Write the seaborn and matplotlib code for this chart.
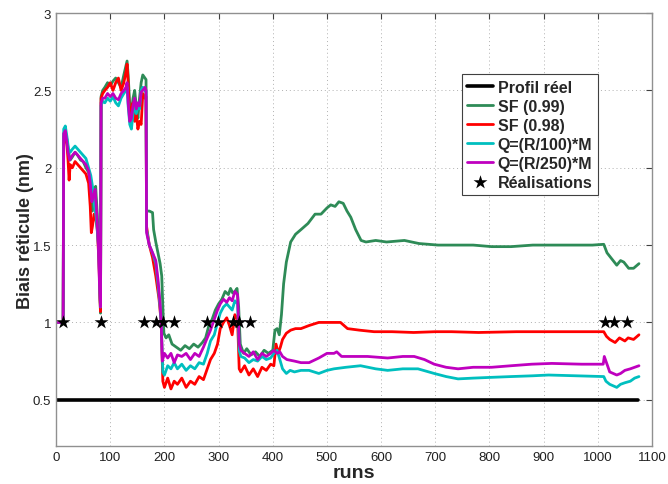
import numpy as np
import pandas as pd
import matplotlib
matplotlib.use("Agg")
import matplotlib.pyplot as plt
import seaborn as sns

# (runs, value)
reel_runs = [1, 1075]
reel_vals = [0.5, 0.5]

sf99_runs = [1, 13, 14, 17, 20, 23, 26, 30, 35, 40, 45, 50, 55, 60, 64, 67, 70, 73, 76, 79, 81, 82,
             83, 86, 90, 95, 100, 105, 110, 115, 120, 125, 129, 131, 133, 136, 139, 142, 145, 148, 151,
             154, 157, 160, 164, 166, 167, 172, 178, 180, 184, 188, 192, 195, 197, 199, 203, 208, 214,
             222, 230, 238, 246, 254, 262, 270, 276, 282, 288, 294, 300, 306, 312, 318, 322, 326, 330,
             334, 337, 340, 346, 352, 360, 368, 376, 384, 392, 400, 404, 408, 412, 416, 420, 425, 433,
             442, 452, 465, 478, 489, 500, 507, 515, 522, 530, 537, 544, 553, 563, 572, 590, 610, 643,
             670, 705, 740, 770, 804, 840, 880, 909, 950, 990, 1011, 1017, 1026, 1035, 1042, 1048,
             1057, 1066, 1076]
sf99_vals = [1.0, 1.0, 2.22, 2.24, 2.18, 2.1, 2.05, 2.07, 2.1, 2.08, 2.05, 2.04, 2.0, 1.97, 1.85,
             1.72, 1.82, 1.88, 1.7, 1.45, 1.15, 1.06,
             2.46, 2.5, 2.52, 2.55, 2.53, 2.56, 2.58, 2.55, 2.52, 2.6, 2.66, 2.69, 2.6, 2.4, 2.35,
             2.45, 2.5, 2.4, 2.32, 2.45, 2.55, 2.6, 2.58, 2.57, 1.72, 1.72, 1.71, 1.6, 1.52, 1.45,
             1.38, 1.3, 1.1, 0.93, 0.9, 0.92, 0.86, 0.84, 0.82, 0.85, 0.83, 0.86, 0.84, 0.87, 0.9,
             0.98, 1.02, 1.08, 1.12, 1.15, 1.2, 1.18, 1.22, 1.19, 1.2, 1.22, 1.1, 0.86, 0.8, 0.83,
             0.79, 0.81, 0.78, 0.82, 0.8, 0.82, 0.95, 0.96, 0.92, 1.05, 1.25, 1.39, 1.52, 1.57, 1.6,
             1.64, 1.7, 1.7, 1.74, 1.76, 1.75, 1.78, 1.77, 1.72, 1.68, 1.6, 1.53, 1.52, 1.53, 1.52,
             1.53, 1.51, 1.5, 1.5, 1.5, 1.49, 1.49, 1.5, 1.5, 1.5, 1.5, 1.505, 1.45, 1.41, 1.37,
             1.4, 1.39, 1.35, 1.35, 1.38]

sf98_runs = [1, 13, 14, 17, 20, 22, 24, 26, 30, 35, 40, 45, 50, 55, 60, 63, 65, 67, 70, 73, 76, 79,
             81, 82, 83, 86, 90, 95, 100, 105, 110, 115, 120, 125, 129, 131, 133, 136, 139, 142, 145,
             148, 151, 154, 157, 160, 164, 166, 167, 172, 178, 184, 190, 194, 197, 200, 206, 212, 218,
             224, 232, 240, 248, 256, 264, 272, 279, 285, 292, 298, 303, 309, 315, 320, 325, 330, 335,
             338, 341, 348, 356, 364, 372, 380, 388, 396, 402, 406, 410, 414, 418, 425, 433, 442, 452,
             467, 485, 500, 513, 525, 538, 560, 587, 620, 660, 700, 730, 780, 850, 920, 980, 1011,
             1016, 1022, 1032, 1040, 1050, 1056, 1066, 1076]
sf98_vals = [1.0, 1.0, 2.2, 2.2, 2.15, 2.05, 1.92, 2.02, 2.0, 2.04, 2.02, 2.0, 1.98, 1.96, 1.9, 1.75,
             1.58, 1.62, 1.7, 1.68, 1.6, 1.4, 1.15, 1.07,
             2.45, 2.48, 2.5, 2.52, 2.55, 2.5, 2.55, 2.58, 2.5, 2.55, 2.62, 2.67, 2.55, 2.3, 2.38,
             2.42, 2.3, 2.35, 2.25, 2.3, 2.28, 2.48, 2.45, 2.46, 1.62, 1.5, 1.42, 1.3, 1.15, 1.0,
             0.62, 0.58, 0.64, 0.57, 0.62, 0.6, 0.64, 0.58, 0.62, 0.6, 0.65, 0.63, 0.7, 0.76, 0.8,
             0.86, 0.96, 1.0, 1.03, 0.98, 0.92, 1.05, 1.02, 0.7, 0.68, 0.72, 0.66, 0.7, 0.65, 0.71,
             0.69, 0.73, 0.72, 0.86, 0.8, 0.84, 0.89, 0.93, 0.95, 0.96, 0.96, 0.98, 1.0, 1.0, 1.0,
             1.0, 0.96, 0.95, 0.94, 0.94, 0.935, 0.94, 0.94, 0.935, 0.94, 0.94, 0.94, 0.94, 0.91,
             0.89, 0.87, 0.9, 0.88, 0.9, 0.89, 0.92]

q100_runs = [1, 13, 14, 17, 20, 23, 26, 30, 35, 40,
             45, 50, 55, 60, 64, 68, 71, 74, 77, 79,
             81, 82, 83, 86, 90, 95, 100, 105, 110, 115,
             120, 125, 129, 131, 133, 136, 139, 142, 145, 148,
             151, 154, 157, 160, 164, 166, 167, 172, 178, 184,
             188, 192, 194, 197, 200, 206, 212, 218, 224, 232,
             240, 248, 256, 264, 272, 279, 285, 292, 298, 303,
             309, 315, 320, 325, 330, 335, 338, 341, 348, 356,
             364, 372, 380, 388, 396, 402, 408, 413, 418, 425,
             432, 440, 452, 467, 485, 500, 513, 535, 562, 590,
             612, 640, 668, 698, 720, 742, 770, 804, 840, 880,
             909, 960, 1011, 1015, 1022, 1035, 1042, 1050, 1060, 1068,
             1076]
q100_vals = [1.0, 1.0, 2.25, 2.27, 2.2, 2.12, 2.1, 2.12, 2.14, 2.12,
             2.1, 2.08, 2.06, 2.0, 1.95, 1.86, 1.75, 1.68, 1.55, 1.45,
             1.2, 1.1, 2.4, 2.43, 2.42, 2.45, 2.43, 2.46, 2.42, 2.4,
             2.45, 2.48, 2.5, 2.52, 2.4, 2.28, 2.25, 2.35, 2.42, 2.35,
             2.4, 2.38, 2.5, 2.52, 2.5, 2.5, 1.6, 1.5, 1.45, 1.38,
             1.25, 1.1, 1.0, 0.68, 0.66, 0.72, 0.7, 0.74, 0.7, 0.73,
             0.69, 0.72, 0.7, 0.74, 0.73, 0.8, 0.88, 0.92, 1.0, 1.06,
             1.1, 1.12, 1.1, 1.08, 1.14, 1.12, 0.82, 0.78, 0.77, 0.74,
             0.76, 0.75, 0.78, 0.76, 0.77, 0.8, 0.82, 0.76, 0.7, 0.67,
             0.69, 0.68, 0.69, 0.69, 0.67, 0.69, 0.7, 0.71, 0.72, 0.7,
             0.69, 0.7, 0.7, 0.67, 0.65, 0.635, 0.64, 0.645, 0.65, 0.655,
             0.66, 0.655, 0.65, 0.62, 0.6, 0.58, 0.6, 0.61, 0.62, 0.64,
             0.65]

q250_runs = [1, 13, 14, 17, 20, 22, 25, 30, 35, 40,
             45, 50, 55, 60, 63, 66, 69, 72, 75, 78,
             80, 82, 83, 86, 90, 95, 100, 105, 110, 115,
             120, 125, 129, 131, 133, 136, 139, 142, 145, 148,
             151, 154, 157, 160, 164, 166, 167, 172, 178, 184,
             188, 192, 194, 196, 200, 206, 212, 218, 224, 232,
             240, 248, 256, 264, 272, 279, 285, 292, 298, 303,
             309, 315, 320, 325, 330, 335, 338, 341, 348, 356,
             364, 372, 380, 388, 396, 402, 408, 413, 418, 426,
             440, 452, 467, 485, 500, 513, 518, 527, 545, 575,
             612, 640, 661, 680, 698, 720, 742, 770, 804, 840,
             878, 915, 970, 1010, 1012, 1016, 1022, 1035, 1042, 1050,
             1060, 1068, 1076]
q250_vals = [1.0, 1.0, 2.22, 2.24, 2.16, 2.1, 2.05, 2.08, 2.1, 2.08,
             2.06, 2.04, 2.02, 1.98, 1.9, 1.78, 1.82, 1.86, 1.7, 1.5,
             1.25, 1.1, 2.42, 2.45, 2.45, 2.48, 2.46, 2.48, 2.45, 2.44,
             2.48, 2.5, 2.52, 2.55, 2.42, 2.3, 2.32, 2.4, 2.45, 2.38,
             2.42, 2.4, 2.49, 2.5, 2.52, 2.5, 1.58, 1.5, 1.45, 1.4,
             1.28, 1.12, 1.0, 0.75, 0.8, 0.77, 0.8, 0.74, 0.79, 0.78,
             0.8, 0.76, 0.8, 0.78, 0.84, 0.9, 0.95, 1.02, 1.08, 1.12,
             1.15, 1.13, 1.16, 1.14, 1.2, 1.18, 0.86, 0.82, 0.8, 0.78,
             0.81, 0.76, 0.8, 0.78, 0.8, 0.82, 0.8, 0.81, 0.78, 0.76,
             0.75, 0.74, 0.74, 0.77, 0.8, 0.8, 0.81, 0.78, 0.78, 0.78,
             0.77, 0.78, 0.78, 0.76, 0.73, 0.71, 0.70, 0.71, 0.71, 0.72,
             0.73, 0.735, 0.73, 0.73, 0.78, 0.74, 0.68, 0.66, 0.67, 0.69,
             0.7, 0.71, 0.72]

real_runs = [13, 83, 163, 185, 197, 218, 279, 298, 327, 337, 358, 1013, 1030, 1054]
real_vals = [1.0] * len(real_runs)

series = [
    ("Profil réel", reel_runs, reel_vals, "black", 2.6),
    ("SF (0.99)", sf99_runs, sf99_vals, "#2E8B57", 2.0),
    ("SF (0.98)", sf98_runs, sf98_vals, "#FF0000", 2.0),
    ("Q=(R/100)*M", q100_runs, q100_vals, "#00BFBF", 2.0),
    ("Q=(R/250)*M", q250_runs, q250_vals, "#BF00BF", 2.0),
]

sns.set_style("white")
plt.rcParams["font.family"] = ["Liberation Sans", "DejaVu Sans"]

fig = plt.figure(figsize=(6.68, 4.85), dpi=100)
ax = fig.add_axes([0.084, 0.078, 0.892, 0.893])

for name, xs, ys, col, lw in series:
    sns.lineplot(x=xs, y=ys, color=col, linewidth=lw, sort=False, estimator=None,
                 label=name, ax=ax)

sns.scatterplot(x=real_runs, y=real_vals, marker="*", s=110, color="black",
                edgecolor="black", linewidth=0, label="Réalisations", ax=ax, zorder=5)

ax.set_xlim(0, 1100)
ax.set_ylim(0.2, 3)
ax.set_xticks(np.arange(0, 1101, 100))
ax.set_yticks([0.5, 1, 1.5, 2, 2.5, 3])
ax.set_yticklabels(["0.5", "1", "1.5", "2", "2.5", "3"])
ax.tick_params(direction="in", length=4, top=True, right=True, labelsize=9.5,
               color="#404040", labelcolor="#202020")
ax.grid(True, linestyle=(0, (1, 3)), color="#b0b0b0", linewidth=0.7)
for sp in ax.spines.values():
    sp.set_color("#909090")
    sp.set_linewidth(1.0)

ax.set_xlabel("runs", fontsize=14, fontweight="bold", labelpad=1)
ax.set_ylabel("Biais réticule (nm)", fontsize=13, fontweight="bold", labelpad=-1)

leg = ax.legend(loc="upper left", bbox_to_anchor=(0.681, 0.859), borderaxespad=0,
                prop={"weight": "bold", "size": 11.5}, handlelength=1.6, handletextpad=0.3,
                borderpad=0.35, labelspacing=0.25, fancybox=False, framealpha=1,
                edgecolor="#404040")
leg.get_frame().set_linewidth(0.8)

fig.savefig("out.png", dpi=100)
